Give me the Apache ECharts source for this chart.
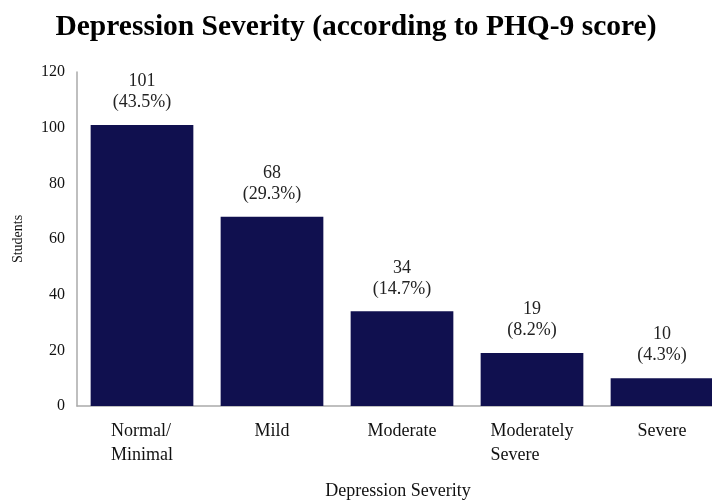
<!DOCTYPE html>
<html><head><meta charset="utf-8">
<script src="https://cdn.jsdelivr.net/npm/echarts@6/dist/echarts.min.js"></script>
<style>html,body{margin:0;padding:0;background:#fff}#c{width:712px;height:501px}</style>
</head><body><div id="c"></div>
<script>
var categories = ['Normal/\nMinimal', 'Mild', 'Moderate', 'Moderately\nSevere', 'Severe'];
var students = [101, 68, 34, 19, 10];
var percents = ['43.5%', '29.3%', '14.7%', '8.2%', '4.3%'];

var font = '"Liberation Serif", "Times New Roman", serif';

var chart = echarts.init(document.getElementById('c'));
chart.setOption({
  animation: false,
  title: {
    text: 'Depression Severity (according to PHQ-9 score)',
    left: 'center', top: 7,
    textStyle: { fontFamily: font, fontWeight: 'bold', fontSize: 29.5, color: '#000' }
  },
  grid: { left: 77, top: 72, right: -15, bottom: 95, containLabel: false, outerBoundsMode: 'none' },
  xAxis: {
    type: 'category', data: categories,
    name: 'Depression Severity', nameLocation: 'middle', nameGap: 76,
    nameTextStyle: { fontFamily: font, fontSize: 18, color: '#111', padding: [0, 0, 0, -8] },
    axisLine: { lineStyle: { color: '#aaa', width: 1.5 } },
    axisTick: { show: false },
    axisLabel: {
      fontFamily: font, fontSize: 18, color: '#111', lineHeight: 24, margin: 13,
      interval: 0,
      formatter: function (v) {
        return v.split('\n').map(function (l) { return '{a|' + l + '}'; }).join('\n');
      },
      rich: { a: { fontFamily: font, fontSize: 18, color: '#111', lineHeight: 24, align: 'left' } }
    }
  },
  yAxis: {
    type: 'value', min: 0, max: 120, interval: 20,
    name: 'Students', nameLocation: 'middle', nameGap: 52,
    nameTextStyle: { fontFamily: font, fontSize: 14, color: '#111' },
    axisLine: { show: true, lineStyle: { color: '#aaa', width: 1.5 } },
    axisTick: { show: false },
    splitLine: { show: false },
    axisLabel: { fontFamily: font, fontSize: 16, color: '#111', margin: 12 }
  },
  series: [{
    type: 'bar', data: students, barCategoryGap: '21%',
    itemStyle: { color: '#10104f' },
    label: {
      show: true, position: 'top', distance: 12,
      fontFamily: font, fontSize: 18, color: '#222', lineHeight: 21, align: 'center',
      formatter: function (p) { return p.value + '\n(' + percents[p.dataIndex] + ')'; }
    }
  }]
});
</script></body></html>
